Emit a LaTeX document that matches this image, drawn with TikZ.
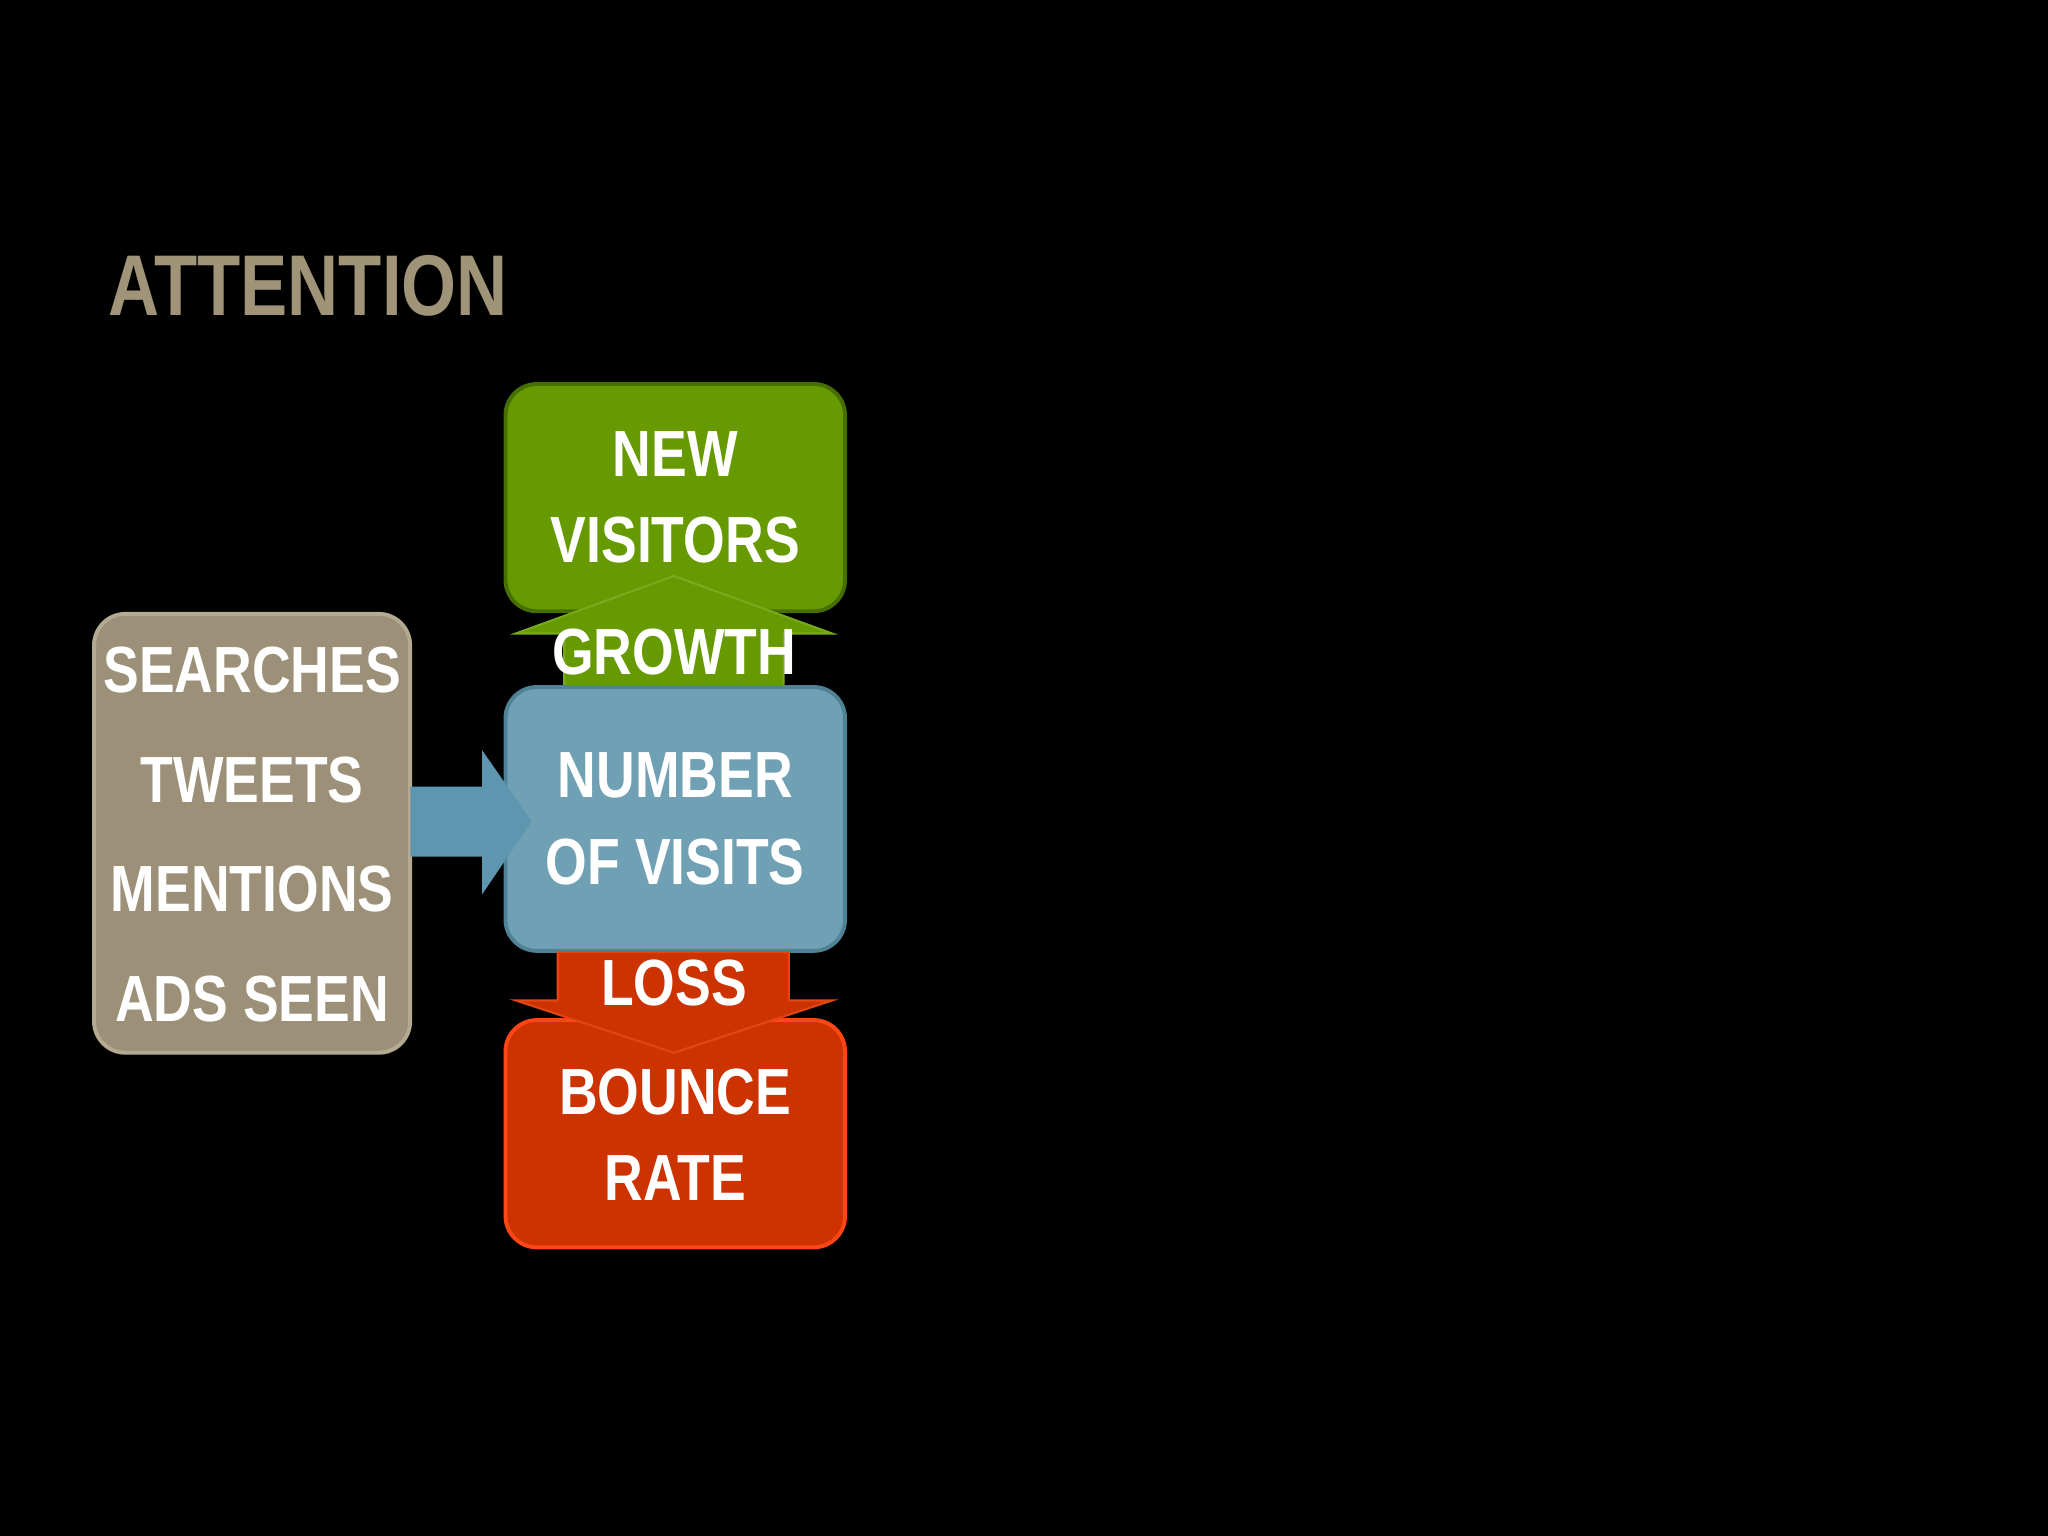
\documentclass[tikz,border=0pt]{standalone}
\usepackage{fontspec}
\setmainfont{Liberation Sans}[FakeStretch=0.82]
\begin{document}
\begin{tikzpicture}[x=0.5pt,y=-0.5pt,
  box/.style={rounded corners=12pt,line width=1.5pt},
  lbl/.style={text=white,font=\fontsize{25}{29}\selectfont\bfseries,align=center},
  arr/.style={line width=0.8pt}]
\fill[black] (0,0) rectangle (1568,1176);
\node[text={rgb,255:red,160;green,148;blue,120},font=\fontsize{33}{36}\selectfont\bfseries,anchor=west] (title) at (76,219) {ATTENTION};
% boxes
\draw[box,fill={rgb,255:red,156;green,145;blue,120},draw={rgb,255:red,180;green,170;blue,145}] (72,470) rectangle (314,806);
\draw[box,fill={rgb,255:red,102;green,154;blue,0},draw={rgb,255:red,70;green,110;blue,0}] (387,294) rectangle (647,468);
\draw[box,fill={rgb,255:red,204;green,51;blue,0},draw={rgb,255:red,255;green,70;blue,20}] (387,781) rectangle (647,955);
% green arrow
\draw[arr,fill={rgb,255:red,102;green,154;blue,0},draw={rgb,255:red,120;green,170;blue,30}] (432,526) -- (432,485) -- (395,485) -- (516,441) -- (637,485) -- (600,485) -- (600,526) -- cycle;
\draw[box,fill={rgb,255:red,111;green,160;blue,180},draw={rgb,255:red,80;green,130;blue,150}] (387,526) rectangle (647,728);
% red arrow
\draw[arr,fill={rgb,255:red,204;green,51;blue,0},draw={rgb,255:red,225;green,70;blue,20}] (427,729) -- (427,766) -- (395,766) -- (516,806) -- (637,766) -- (604,766) -- (604,729) -- cycle;
% blue arrow
\draw[arr,fill={rgb,255:red,95;green,150;blue,175},draw={rgb,255:red,95;green,150;blue,175}] (315,603) -- (370,603) -- (370,577) -- (406,629) -- (370,682) -- (370,655) -- (315,655) -- cycle;
% labels
\node[lbl] (s1) at (193,513) {SEARCHES};
\node[lbl] (s2) at (193,597) {TWEETS};
\node[lbl] (s3) at (193,681) {MENTIONS};
\node[lbl] (s4) at (193,765) {ADS SEEN};
\node[lbl] (nv) at (517,381) {NEW\\[4pt]VISITORS};
\node[lbl] (gr) at (516,499) {GROWTH};
\node[lbl] (nov) at (517,627) {NUMBER\\[4pt]OF VISITS};
\node[lbl] (ls) at (516,753) {LOSS};
\node[lbl] (br) at (517,869) {BOUNCE\\[4pt]RATE};
\end{tikzpicture}
\end{document}
